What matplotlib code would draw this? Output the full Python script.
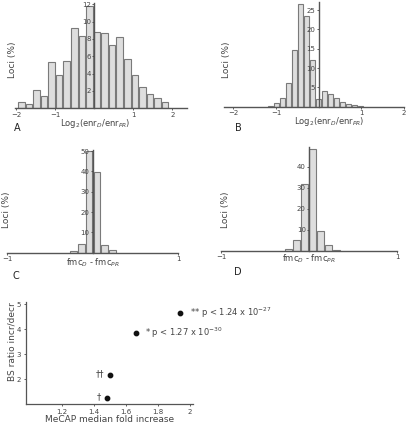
import matplotlib
matplotlib.use("Agg")
import matplotlib.pyplot as plt
import numpy as np

plt.rcParams['font.family'] = ['DejaVu Sans']

W, H = 408, 426

# ---------------- data ----------------
a_centers = [-1.87 + 0.194 * i for i in range(20)]
a_heights = [0.7, 0.55, 2.1, 1.4, 5.35, 3.8, 5.5, 9.3, 8.35, 11.8,
             8.8, 8.7, 7.3, 8.2, 5.65, 3.8, 2.5, 1.6, 1.15, 0.7]

b_centers = [-1.12 + 0.14 * i for i in range(16)]
b_heights = [0.2, 0.85, 2.2, 6.2, 14.6, 26.5, 23.4, 12.2,
             2.0, 4.0, 3.4, 2.15, 1.3, 0.6, 0.35, 0.2]

c_centers = [-0.228 + 0.092 * i for i in range(6)]
c_heights = [0.8, 4.1, 50.0, 39.5, 3.6, 1.1]

d_centers = [-0.24 + 0.091 * i for i in range(7)]
d_heights = [0.95, 5.2, 31.9, 48.4, 9.7, 2.9, 0.5]

e_x = [1.94, 1.66, 1.50, 1.48]
e_y = [4.63, 3.84, 2.19, 1.27]
e_labels = ["** p < 1.24 x 10$^{-27}$", "* p < 1.27 x 10$^{-30}$", "††", "†"]

a_yticks = [2, 4, 6, 8, 10, 12]
b_yticks = [5, 10, 15, 20, 25]
c_yticks = [10, 20, 30, 40, 50]
d_yticks = [10, 20, 30, 40]
ab_xticks = [-2, -1, 1, 2]
cd_xticks = [-1, 1]
e_xticks = [1.2, 1.4, 1.6, 1.8, 2.0]
e_xticklabels = ["1.2", "1.4", "1.6", "1.8", "2"]
e_yticks = [2, 3, 4, 5]

BAR_FC = "#dedede"
BAR_EC = "#7a7a7a"
AX_C = "#555555"
TXT_C = "#444444"

fig = plt.figure(figsize=(W / 100, H / 100), dpi=100)


def rect(x0, x1, ybot, ytop):
    return [x0 / W, 1 - ybot / H, (x1 - x0) / W, (ybot - ytop) / H]


def hist_axes(r, xlim, ylim, centers, heights, width, xticks, yticks):
    ax = fig.add_axes(r)
    ax.bar(centers, heights, width=width, color=BAR_FC, edgecolor=BAR_EC,
           linewidth=0.8, zorder=1)
    ax.set_xlim(*xlim)
    ax.set_ylim(*ylim)
    for s in ['top', 'right']:
        ax.spines[s].set_visible(False)
    ax.spines['left'].set_position(('data', 0))
    ax.spines['left'].set_zorder(3)
    for s in ['left', 'bottom']:
        ax.spines[s].set_color(AX_C)
        ax.spines[s].set_linewidth(1.0)
    ax.set_xticks(xticks)
    ax.set_xticklabels([("−%d" % abs(t)) if t < 0 else "%d" % t for t in xticks])
    ax.set_yticks(yticks)
    ax.tick_params(axis='both', labelsize=5, colors=TXT_C, length=1.5,
                   width=0.6, pad=1)
    ax.patch.set_visible(False)
    return ax


hist_axes(rect(14.7, 186.7, 108.3, 3.4), (-2.04, 2.37), (0, 12.1),
          a_centers, a_heights, 0.17, ab_xticks, a_yticks)
hist_axes(rect(224, 404, 106.7, 1.5), (-2.22, 2.0), (0, 27.2),
          b_centers, b_heights, 0.12, ab_xticks, b_yticks)
hist_axes(rect(7.3, 178.3, 252.7, 150), (-1.0, 1.0), (0, 50.5),
          c_centers, c_heights, 0.078, cd_xticks, c_yticks)
hist_axes(rect(221.3, 397.3, 251, 147), (-1.0, 1.0), (0, 49.5),
          d_centers, d_heights, 0.08, cd_xticks, d_yticks)


def ftext(x, y, s, **kw):
    kw.setdefault('color', TXT_C)
    kw.setdefault('ha', 'center')
    kw.setdefault('va', 'center')
    fig.text(x / W, 1 - y / H, s, **kw)


# axis labels
for (x, y) in [(13, 60), (226, 60), (7, 210), (225, 210)]:
    ftext(x, y, "Loci (%)", rotation=90, fontsize=6.5)
ftext(95, 123, "Log$_2$(enr$_D$/enr$_{PR}$)", fontsize=6)
ftext(329, 122, "Log$_2$(enr$_D$/enr$_{PR}$)", fontsize=6)
ftext(93, 263, "fmc$_D$ - fmc$_{PR}$", fontsize=6)
ftext(309, 259, "fmc$_D$ - fmc$_{PR}$", fontsize=6)

# panel letters
for (x, y, s) in [(17, 128, "A"), (238, 128, "B"), (16, 276, "C"), (238, 272, "D")]:
    ftext(x, y, s, fontsize=7, color="#222222")

# ---------------- scatter panel ----------------
ax = fig.add_axes(rect(26, 193.3, 404.3, 301.7))
ax.scatter(e_x, e_y, s=10, color="#111111", zorder=3)
ax.set_xlim(0.975, 2.02)
ax.set_ylim(1, 5.1)
for s in ['top', 'right']:
    ax.spines[s].set_visible(False)
for s in ['left', 'bottom']:
    ax.spines[s].set_color(AX_C)
    ax.spines[s].set_linewidth(0.9)
ax.set_xticks(e_xticks)
ax.set_xticklabels(e_xticklabels)
ax.set_yticks(e_yticks)
ax.tick_params(axis='both', labelsize=5, colors=TXT_C, length=1.5, width=0.6, pad=2)
ax.patch.set_visible(False)
ftext(110, 419, "MeCAP median fold increase", fontsize=6.5)
ftext(12, 342, "BS ratio incr/decr", fontsize=6.5, rotation=90)

offsets = [(7, 0.5), (7, 0.5), (-4, 0.5), (-4, 0.5)]
for i, (x, y, lab) in enumerate(zip(e_x, e_y, e_labels)):
    dx, dy = offsets[i]
    ha = 'left' if dx > 0 else 'right'
    ax.annotate(lab, (x, y), xytext=(dx, dy), textcoords='offset points',
                ha=ha, va='center', fontsize=6, color=TXT_C,
                annotation_clip=False)

fig.savefig("out.png", dpi=100)
